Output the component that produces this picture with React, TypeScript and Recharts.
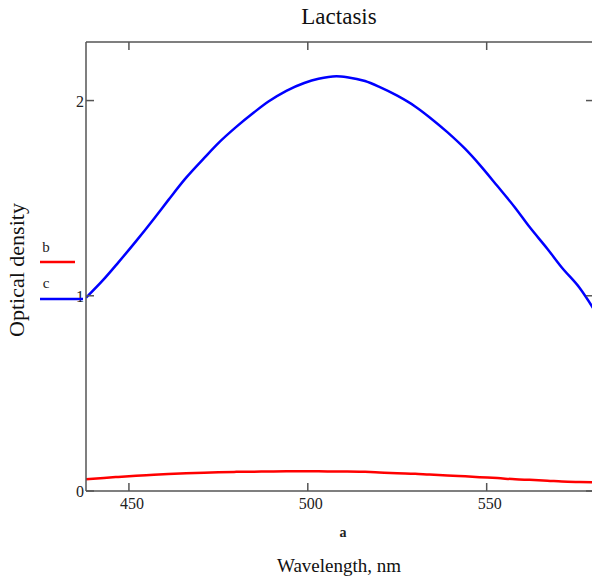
import React from 'react';
import { LineChart, Line, XAxis, YAxis, Legend } from 'recharts';

const wavelengths = [438, 443, 447, 452, 457, 461, 466, 471, 475, 480, 485, 489, 494, 499, 503, 508, 511, 516, 520, 525, 530, 534, 539, 544, 548, 553, 558, 562, 567, 571, 576, 580];
const seriesB = [0.06, 0.067, 0.072, 0.078, 0.083, 0.087, 0.091, 0.094, 0.096, 0.098, 0.099, 0.1, 0.101, 0.101, 0.101, 0.1, 0.1, 0.098, 0.095, 0.091, 0.088, 0.084, 0.08, 0.075, 0.071, 0.066, 0.06, 0.057, 0.053, 0.049, 0.046, 0.044];
const seriesC = [0.99, 1.085, 1.17, 1.28, 1.395, 1.49, 1.605, 1.705, 1.782, 1.865, 1.94, 1.995, 2.05, 2.09, 2.112, 2.125, 2.12, 2.1, 2.07, 2.025, 1.97, 1.915, 1.838, 1.752, 1.672, 1.562, 1.45, 1.352, 1.24, 1.145, 1.04, 0.93];
const xTicks = [450, 500, 550];
const yTicks = [0, 1, 2];
const seriesNames = ['b', 'c'];
const seriesColors = ['#ff0000', '#0000ff'];

const data = wavelengths.map((nm, i) => ({ nm, b: seriesB[i], c: seriesC[i] }));

const FONT = '"Liberation Serif", "Times New Roman", serif';
const AXIS = '#555555';
const TICK_LEN = 8;

const BottomTick = (props: any) => {
  const { x, y, payload } = props;
  return (
    <g>
      <line x1={x} y1={y} x2={x} y2={y - TICK_LEN} stroke={AXIS} strokeWidth={1.5} />
      <text x={x + 3} y={y + 18} textAnchor="middle" fontFamily={FONT} fontSize={16} fill="#222">
        {payload.value}
      </text>
    </g>
  );
};

const TopTick = (props: any) => {
  const { x, y } = props;
  return <line x1={x} y1={y} x2={x} y2={y + TICK_LEN} stroke={AXIS} strokeWidth={1.5} />;
};

const LeftTick = (props: any) => {
  const { x, y, payload } = props;
  return (
    <g>
      <line x1={x} y1={y} x2={x + TICK_LEN} y2={y} stroke={AXIS} strokeWidth={1.5} />
      <text x={x - 2} y={y + 6} textAnchor="end" fontFamily={FONT} fontSize={16} fill="#222">
        {payload.value}
      </text>
    </g>
  );
};

const RightTick = (props: any) => {
  const { x, y } = props;
  return <line x1={x} y1={y} x2={x - TICK_LEN} y2={y} stroke={AXIS} strokeWidth={1.5} />;
};

const lineLens = [35, 43];

const LegendContent = (props: any) => {
  const payload = props.payload || [];
  return (
    <svg width={90} height={80}>
      {payload.map((entry: any, i: number) => (
        <g key={entry.value}>
          <text x={46} y={22 + i * 36} textAnchor="middle" fontFamily={FONT} fontSize={15} fill="#222">
            {entry.value}
          </text>
          <line x1={40} y1={32 + i * 37} x2={40 + lineLens[i]} y2={32 + i * 37} stroke={entry.color} strokeWidth={2.5} />
        </g>
      ))}
    </svg>
  );
};

export default function App() {
  return (
    <div style={{ position: 'absolute', left: 0, top: 0, width: 592, height: 583, overflow: 'hidden', background: '#fff' }}>
      <LineChart
        width={610}
        height={583}
        data={data}
        margin={{ top: 32, right: 6, bottom: 62, left: 56 }}
      >
        <XAxis
          xAxisId="bottom"
          dataKey="nm"
          type="number"
          domain={[438, 580]}
          ticks={xTicks}
          orientation="bottom"
          height={30}
          tickSize={0}
          tickMargin={0}
          tickLine={false}
          axisLine={{ stroke: AXIS, strokeWidth: 1.5 }}
          tick={BottomTick}
          allowDataOverflow
        />
        <XAxis
          xAxisId="top"
          dataKey="nm"
          type="number"
          domain={[438, 580]}
          ticks={xTicks}
          orientation="top"
          height={10}
          tickSize={0}
          tickMargin={0}
          tickLine={false}
          axisLine={{ stroke: AXIS, strokeWidth: 1.5 }}
          tick={TopTick}
          allowDataOverflow
        />
        <YAxis
          yAxisId="left"
          type="number"
          domain={[0, 2.3]}
          ticks={yTicks}
          orientation="left"
          width={30}
          tickSize={0}
          tickMargin={0}
          tickLine={false}
          axisLine={{ stroke: AXIS, strokeWidth: 1.5 }}
          tick={LeftTick}
          allowDataOverflow
        />
        <YAxis
          yAxisId="right"
          type="number"
          domain={[0, 2.3]}
          ticks={yTicks}
          orientation="right"
          width={10}
          tickSize={0}
          tickMargin={0}
          tickLine={false}
          axisLine={{ stroke: AXIS, strokeWidth: 1.5 }}
          tick={RightTick}
          allowDataOverflow
        />
        <Legend
          layout="horizontal"
          verticalAlign="middle"
          align="center"
          content={LegendContent}
          wrapperStyle={{ position: 'absolute', left: 0, top: 230, width: 90, height: 80 }}
        />
        <Line
          xAxisId="bottom"
          yAxisId="left"
          type="monotone"
          dataKey="b"
          name={seriesNames[0]}
          stroke={seriesColors[0]}
          strokeWidth={2.5}
          dot={false}
          isAnimationActive={false}
        />
        <Line
          xAxisId="bottom"
          yAxisId="left"
          type="monotone"
          dataKey="c"
          name={seriesNames[1]}
          stroke={seriesColors[1]}
          strokeWidth={2.5}
          dot={false}
          isAnimationActive={false}
        />
      </LineChart>
      <svg
        width={592}
        height={583}
        style={{ position: 'absolute', left: 0, top: 0, pointerEvents: 'none' }}
      >
        <text x={339} y={24} textAnchor="middle" fontFamily={FONT} fontSize={23} fill="#111">
          Lactasis
        </text>
        <text x={343} y={537} textAnchor="middle" fontFamily={FONT} fontSize={14} fontWeight="bold" fill="#222">
          a
        </text>
        <text x={339} y={572} textAnchor="middle" fontFamily={FONT} fontSize={19} fill="#111">
          Wavelength, nm
        </text>
        <text
          x={0}
          y={0}
          transform="translate(24,270) rotate(-90)"
          textAnchor="middle"
          fontFamily={FONT}
          fontSize={22}
          fill="#111"
        >
          Optical density
        </text>
      </svg>
    </div>
  );
}
